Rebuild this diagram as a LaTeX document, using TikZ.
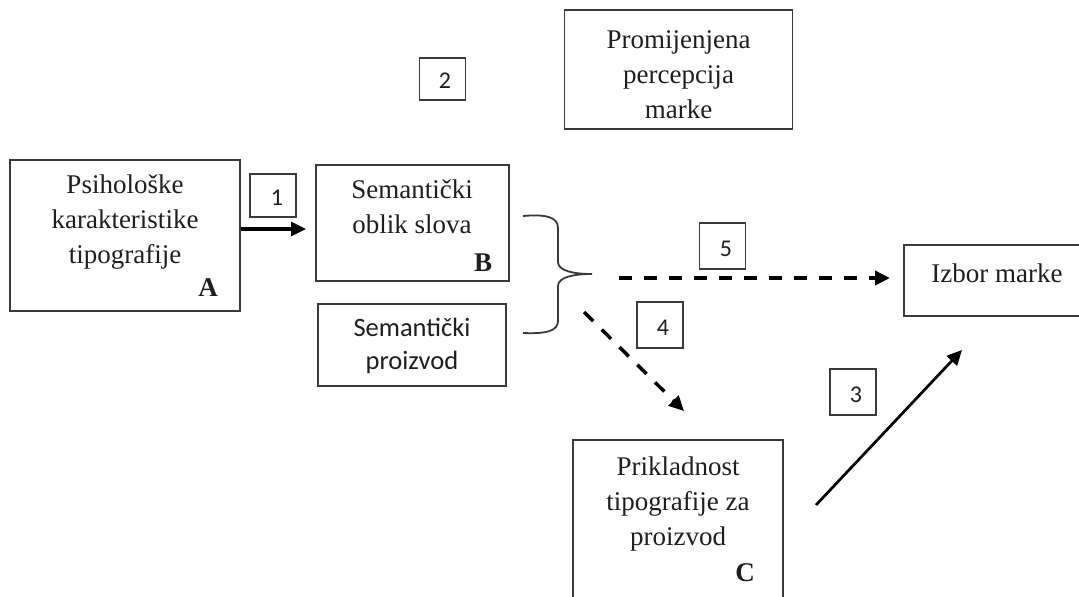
\documentclass[tikz,border=0pt]{standalone}
\usepackage{fontspec}
\setmainfont{Liberation Serif}
\newfontfamily\calfont{Carlito}
\usetikzlibrary{arrows.meta}
\definecolor{boxgray}{HTML}{3A3A3A}
\definecolor{txtgray}{HTML}{1E1E1E}
\tikzset{
  box/.style={draw=boxgray, line width=1.8pt, inner sep=0pt},
  numbox/.style={draw=boxgray, line width=1.8pt, inner sep=0pt, minimum width=46pt, minimum height=46pt},
  numtxt/.style={font=\calfont\fontsize{24}{28}\selectfont, inner sep=0pt, text=txtgray},
  serif/.style={font=\fontsize{27}{35}\selectfont, align=center, inner sep=0pt, text=txtgray},
  sans/.style={font=\calfont\fontsize{26.5}{33}\selectfont, align=center, inner sep=0pt, text=txtgray},
  letter/.style={font=\bfseries\fontsize{27}{30}\selectfont, inner sep=0pt, text=txtgray},
  tip/.style={-{Triangle[length=15pt,width=14pt]}},
  solidarrow/.style={tip, line width=3.2pt, black},
  dasharrow/.style={tip, line width=3.5pt, black, dash pattern=on 13pt off 12pt},
}
\begin{document}
\begin{tikzpicture}[x=1pt,y=-1pt]
\useasboundingbox (0,0) rectangle (1079,597);
% Box A
\node[box, minimum width=230pt, minimum height=151pt] (A) at (125,235.5) {};
\node[serif] (Atxt) at (125,222) {Psihološke\\karakteristike\\tipografije};
\node[letter] (Alab) at (208,288) {A};
% Box B
\node[box, minimum width=193pt, minimum height=116pt] (B) at (412.5,223) {};
\node[serif] (Btxt) at (412,207) {Semantički\\oblik slova};
\node[letter] (Blab) at (483,263) {B};
% Semanticki proizvod
\node[box, minimum width=188pt, minimum height=82pt] (P) at (412,345) {};
\node[sans] (Ptxt) at (412,346) {Semantički\\proizvod};
% Promijenjena percepcija marke
\node[box, minimum width=228pt, minimum height=119pt] (M) at (678.5,69.5) {};
\node[serif] (Mtxt) at (678.5,75) {Promijenjena\\percepcija\\marke};
% Izbor marke
\node[box, minimum width=190pt, minimum height=71pt] (I) at (999,280.5) {};
\node[serif] (Itxt) at (997,273) {Izbor marke};
% Box C
\node[box, minimum width=210pt, minimum height=180pt] (C) at (678,530) {};
\node[serif] (Ctxt) at (678,504) {Prikladnost\\tipografije za\\proizvod};
\node[letter] (Clab) at (745,573) {C};
% number boxes
\node[numbox, minimum height=43pt] (n1) at (273,195.5) {};
\node[numtxt] (t1) at (277,198) {1};
\node[numbox, minimum height=42pt] (n2) at (442.5,79) {};
\node[numtxt] (t2) at (445,81) {2};
\node[numbox] (n5) at (722.5,246) {};
\node[numtxt] (t5) at (726,249) {5};
\node[numbox] (n4) at (660,325) {};
\node[numtxt] (t4) at (663,328) {4};
\node[numbox] (n3) at (853,392) {};
\node[numtxt] (t3) at (856,395) {3};
% brace
\coordinate (brtop) at (523,216);
\coordinate (brtip) at (592,274);
\coordinate (brbot) at (523,333);
\draw[boxgray, line width=1.8pt] (brtop) .. controls (546,214) and (558,217) .. (558,228) -- (558,262) .. controls (558,271) and (574,274) .. (brtip) .. controls (574,274) and (558,277) .. (558,286) -- (558,321) .. controls (558,331) and (546,334) .. (brbot);
% arrows
\coordinate (a1s) at (241,229);
\coordinate (a1e) at (306,229);
\draw[solidarrow] (a1s) -- (a1e);
\coordinate (a5s) at (619,278);
\coordinate (a5e) at (890,278);
\draw[dasharrow] (a5s) -- (a5e);
\coordinate (a4s) at (584,312);
\coordinate (a4e) at (684,411);
\draw[dasharrow] (a4s) -- (a4e);
\coordinate (a3s) at (816,505);
\coordinate (a3e) at (962,350);
\draw[solidarrow, line width=2.7pt] (a3s) -- (a3e);
\end{tikzpicture}
\end{document}
